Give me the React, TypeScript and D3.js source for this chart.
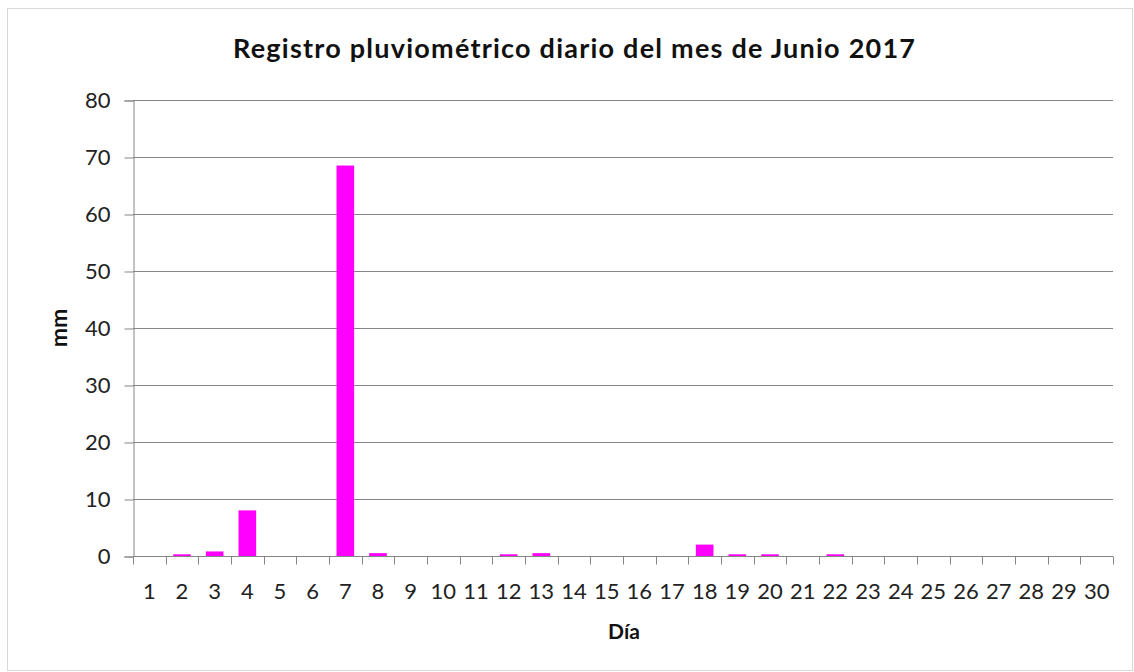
import * as d3 from "d3";
import { useEffect, useRef } from "react";

const days = d3.range(1, 31).map(String);
const rain = [
    0, 0.3, 0.8, 8.0, 0, 0, 68.5, 0.5, 0, 0,
    0, 0.3, 0.5, 0, 0, 0, 0, 2.0, 0.3, 0.3,
    0, 0.3, 0, 0, 0, 0, 0, 0, 0, 0,
];
const yTicks = [0, 10, 20, 30, 40, 50, 60, 70, 80];

const title = "Registro pluviométrico diario del mes de Junio 2017";
const xTitle = "Día";
const yTitle = "mm";

export default function App() {
    const svgRef = useRef<SVGSVGElement | null>(null);

    useEffect(() => {
        if (!svgRef.current) return;
        const svg = d3.select(svgRef.current);
        svg.selectAll("*").remove();

        const totalW = 1134;
        const totalH = 672;
        const font = "Lato, 'Open Sans', sans-serif";
        const grey = "#868686";

        const left = 133;
        const right = 1113;
        const top = 100;
        const bottom = 556;

        // outer frame
        svg.append("rect")
            .attr("x", 7.5)
            .attr("y", 8.5)
            .attr("width", totalW - 9)
            .attr("height", totalH - 10)
            .attr("fill", "#fff")
            .attr("stroke", "#d9d9d9");

        const x = d3.scaleBand<string>().domain(days).range([left, right]).paddingInner(0.46).paddingOuter(0.23);
        const xb = d3.scaleBand<string>().domain(days).range([left, right]);
        const y = d3.scaleLinear().domain([0, 80]).range([bottom, top]);

        // gridlines
        svg.append("g")
            .selectAll("line")
            .data(yTicks.filter((t) => t > 0))
            .join("line")
            .attr("x1", left)
            .attr("x2", right)
            .attr("y1", (d) => Math.round(y(d)) + 0.5)
            .attr("y2", (d) => Math.round(y(d)) + 0.5)
            .attr("stroke", grey);

        // bars
        svg.append("g")
            .selectAll("rect")
            .data(rain)
            .join("rect")
            .attr("x", (d, i) => x(days[i])!)
            .attr("width", x.bandwidth())
            .attr("y", (d) => y(d))
            .attr("height", (d) => bottom - y(d))
            .attr("fill", "#ff00ff");

        // y axis
        const ya = svg.append("g")
            .attr("transform", `translate(${left + 0.5},0.5)`)
            .call(d3.axisLeft(y).tickValues(yTicks).tickSize(9).tickPadding(14));
        ya.selectAll(".domain").attr("stroke", grey);
        ya.selectAll(".tick line").attr("stroke", grey);
        ya.selectAll(".tick text")
            .attr("font-family", font)
            .attr("font-size", 22)
            .attr("fill", "#222");

        // x axis (ticks at category boundaries)
        const xa = svg.append("g").attr("transform", `translate(0,${bottom + 0.5})`);
        xa.append("line")
            .attr("x1", left)
            .attr("x2", right)
            .attr("stroke", grey);
        xa.selectAll("line.tk")
            .data(d3.range(0, 31))
            .join("line")
            .attr("class", "tk")
            .attr("x1", (i) => Math.round(left + i * xb.step()) + 0.5)
            .attr("x2", (i) => Math.round(left + i * xb.step()) + 0.5)
            .attr("y1", 0)
            .attr("y2", 8)
            .attr("stroke", grey);
        xa.selectAll("text")
            .data(days)
            .join("text")
            .attr("x", (d) => xb(d)! + xb.bandwidth() / 2)
            .attr("y", 42)
            .attr("text-anchor", "middle")
            .attr("font-family", font)
            .attr("font-size", 22)
            .attr("fill", "#222")
            .text((d) => d);

        // titles
        svg.append("text")
            .attr("x", 574)
            .attr("y", 58)
            .attr("text-anchor", "middle")
            .attr("font-family", font)
            .attr("font-weight", "bold")
            .attr("font-size", 27)
            .attr("textLength", 682)
            .attr("lengthAdjust", "spacing")
            .attr("fill", "#111")
            .text(title);

        svg.append("text")
            .attr("x", 624)
            .attr("y", 639)
            .attr("text-anchor", "middle")
            .attr("font-family", font)
            .attr("font-weight", "bold")
            .attr("font-size", 21)
            .attr("fill", "#111")
            .text(xTitle);

        svg.append("text")
            .attr("transform", "translate(67,328) rotate(-90)")
            .attr("text-anchor", "middle")
            .attr("font-family", font)
            .attr("font-weight", "bold")
            .attr("font-size", 23)
            .attr("fill", "#111")
            .text(yTitle);
    }, []);

    return (
        <svg
            ref={svgRef}
            width={1134}
            height={672}
            style={{ position: "absolute", left: 0, top: 0 }}
        />
    );
}
